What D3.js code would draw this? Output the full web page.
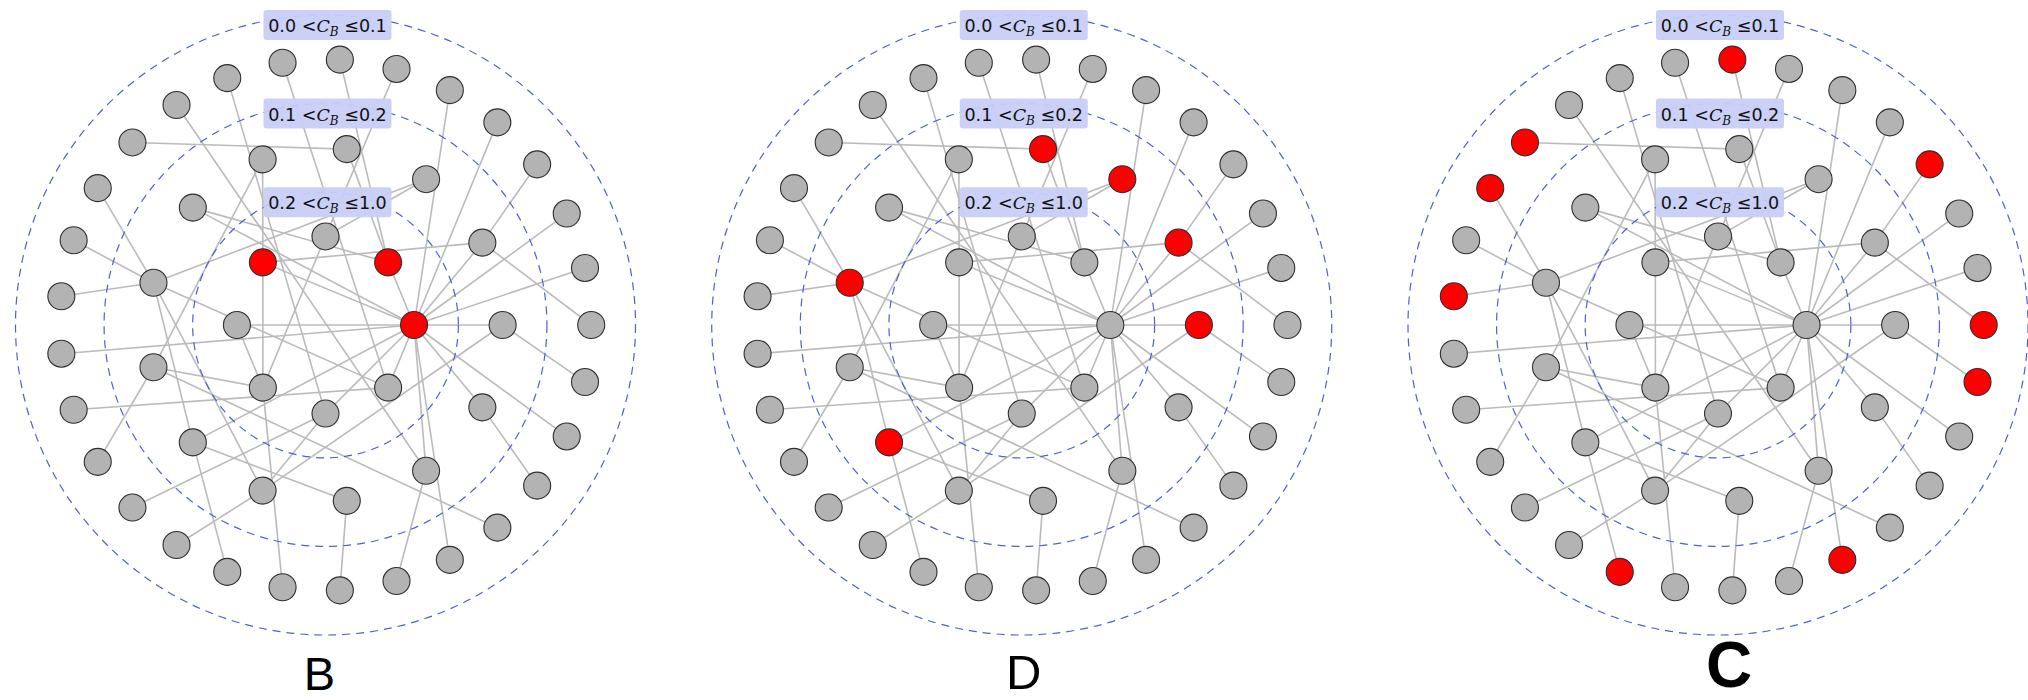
<!DOCTYPE html>
<html>
<head>
<meta charset="utf-8">
<script src="https://cdn.jsdelivr.net/npm/d3@7"></script>
<style>
  body { margin: 0; background: #fff; }
</style>
</head>
<body>
<svg id="chart" width="2028" height="700"></svg>
<script>
// shell layout: node id, angle in degrees (clockwise from 3 o'clock)
var innerNodes = [["I0", 0], ["I45", 45], ["I90", 90], ["I135", 135], ["I180", 180],
    ["I-135", -135], ["I-90", -90], ["I-45", -45]];
var middleNodes = [["M0", 0], ["M+1", 27.7], ["M-1", -27.7], ["M+2", 55.4], ["M-2", -55.4],
    ["M+3", 83.1], ["M-3", -83.1], ["M+4", 110.8], ["M-4", -110.8], ["M+5", 138.5],
    ["M-5", -138.5], ["M+6", 166.2], ["M-6", -166.2]];
var outerNodes = [["O0", 0], ["O+1", 12.4], ["O-1", -12.4], ["O+2", 24.8], ["O-2", -24.8],
    ["O+3", 37.2], ["O-3", -37.2], ["O+4", 49.7], ["O-4", -49.7], ["O+5", 62.1], ["O-5", -62.1],
    ["O+6", 74.5], ["O-6", -74.5], ["O+7", 86.9], ["O-7", -86.9], ["O+8", 99.3], ["O-8", -99.3],
    ["O+9", 111.7], ["O-9", -111.7], ["O+10", 124.1], ["O-10", -124.1], ["O+11", 136.6],
    ["O-11", -136.6], ["O+12", 149], ["O-12", -149], ["O+13", 161.4], ["O-13", -161.4],
    ["O+14", 173.8], ["O-14", -173.8]];
var shellRadius = [1, 2, 3];

var edges = [
    ["O0", "M-1"], ["O+1", "M0"], ["O-1", "I0"], ["O+2", "I0"], ["O-2", "I0"],
    ["O+3", "M+1"], ["O-3", "M-1"], ["O+4", "M+6"], ["O-4", "I0"], ["O+5", "I0"],
    ["O-5", "I0"], ["O+6", "M+2"], ["O-6", "I-90"], ["O+7", "M+3"], ["O-7", "I-45"],
    ["O+8", "I135"], ["O-8", "I45"], ["O+9", "M+5"], ["O-9", "I90"], ["O+10", "M+4"],
    ["O-10", "M+2"], ["O+11", "I90"], ["O-11", "M-3"], ["O+12", "M+6"], ["O-12", "M-6"],
    ["O+13", "I45"], ["O-13", "M-6"], ["O+14", "I0"], ["O-14", "M-6"],
    ["M0", "I0"], ["M0", "M+4"], ["M-1", "I-135"], ["M-1", "I0"], ["M+1", "I0"],
    ["M-2", "I-90"], ["M-2", "M-6"], ["M+2", "I0"], ["M-3", "I-45"], ["M+3", "M+5"],
    ["M-4", "I-135"], ["M-4", "M+6"], ["M+4", "I90"], ["M+4", "M-6"], ["M+5", "I0"],
    ["M+5", "M-6"], ["M-5", "I-45"], ["M-5", "I0"], ["M+6", "I135"], ["M-6", "I45"],
    ["I0", "I180"], ["I135", "I180"], ["I-45", "I0"], ["I-135", "I135"], ["I-135", "I0"],
    ["I45", "I0"], ["I90", "I0"], ["I-90", "I135"]
];

// betweenness bands (dashed rings) and their labels
var bandRadius = [3.5, 2.5, 1.5];
var bandLow = ["0.0", "0.1", "0.2"];
var bandHigh = ["0.1", "0.2", "1.0"];

var panelTitles = ["B", "D", "C"];
var redB = ["I0", "I-45", "I-135"];
var redD = ["M-3", "M-2", "M-1", "M0", "M-6", "M+5"];
var redC = ["O-7", "O-11", "O-12", "O-14", "O-3", "O0", "O+1", "O+9", "O+5"];
var redSets = [redB, redD, redC];

var svg = d3.select("#chart");
var cy = 325;
var nodeR = 13.5;

var x = d3.scalePoint().domain(panelTitles).range([325.5, 1718]);
var r = d3.scaleLinear().domain([0, 3.5]).range([0, 310]);
// degrees clockwise from 3 o'clock -> d3.pointRadial angle
var ang = d3.scaleLinear().domain([-90, 270]).range([0, 2 * Math.PI]);

var nodes = [];
[innerNodes, middleNodes, outerNodes].forEach(function(shell, i) {
    shell.forEach(function(n) {
        var p = d3.pointRadial(ang(n[1]), r(shellRadius[i]));
        nodes.push({id: n[0], x: p[0], y: p[1]});
    });
});
var pos = {};
nodes.forEach(function(n) { pos[n.id] = n; });

// title style per panel
var titleStyle = {
    B: {dx: -6, size: 47, weight: "normal", y: 365},
    D: {dx: 2, size: 49, weight: "normal", y: 364},
    C: {dx: 11, size: 64, weight: "bold", y: 362}
};

panelTitles.forEach(function(t, pi) {
    var g = svg.append("g").attr("transform", "translate(" + x(t) + "," + cy + ")");
    var red = redSets[pi];

    g.append("g").selectAll("line")
        .data(edges)
        .enter().append("line")
        .attr("x1", function(d) { return pos[d[0]].x; })
        .attr("y1", function(d) { return pos[d[0]].y; })
        .attr("x2", function(d) { return pos[d[1]].x; })
        .attr("y2", function(d) { return pos[d[1]].y; })
        .attr("stroke", "#bbbbbb")
        .attr("stroke-width", 1.6);

    g.append("g").selectAll("circle")
        .data(bandRadius)
        .enter().append("circle")
        .attr("r", function(d) { return r(d); })
        .attr("fill", "none")
        .attr("stroke", "#4d5fd9")
        .attr("stroke-width", 1.2)
        .attr("stroke-dasharray", "8,6");

    g.append("g").selectAll("circle")
        .data(nodes)
        .enter().append("circle")
        .attr("cx", function(d) { return d.x; })
        .attr("cy", function(d) { return d.y; })
        .attr("r", nodeR)
        .attr("fill", function(d) { return red.indexOf(d.id) >= 0 ? "#ff0000" : "#b3b3b3"; })
        .attr("stroke", "#2e2e2e")
        .attr("stroke-width", 1.1);

    bandRadius.forEach(function(b, i) {
        var lg = g.append("g").attr("transform", "translate(2," + (-r(b) + 10) + ")");
        var rect = lg.append("rect");
        var txt = lg.append("text")
            .attr("text-anchor", "middle")
            .attr("y", 7)
            .attr("font-family", "DejaVu Sans, sans-serif")
            .attr("font-size", 19)
            .attr("fill", "#111");
        txt.append("tspan").text(bandLow[i] + " <");
        txt.append("tspan").attr("font-family", "DejaVu Serif, serif")
            .attr("font-style", "italic").text("C");
        txt.append("tspan").attr("font-family", "DejaVu Serif, serif")
            .attr("font-style", "italic").attr("font-size", 12).attr("dy", 4).text("B");
        txt.append("tspan").attr("dy", -4).text(" \u2264" + bandHigh[i]);
        // fit text to the label width seen in the picture
        var w = txt.node().getBBox().width;
        txt.attr("font-size", 19 * 118 / w);
        rect.attr("x", -64)
            .attr("y", -15)
            .attr("width", 128)
            .attr("height", 30)
            .attr("rx", 3)
            .attr("fill", "#c7cdf6")
            .attr("fill-opacity", 0.95);
    });

    var st = titleStyle[t];
    g.append("text")
        .attr("x", st.dx)
        .attr("y", st.y)
        .attr("text-anchor", "middle")
        .attr("font-family", "Liberation Sans, Arial, sans-serif")
        .attr("font-size", st.size)
        .attr("font-weight", st.weight)
        .text(t);
});
</script>
</body>
</html>
